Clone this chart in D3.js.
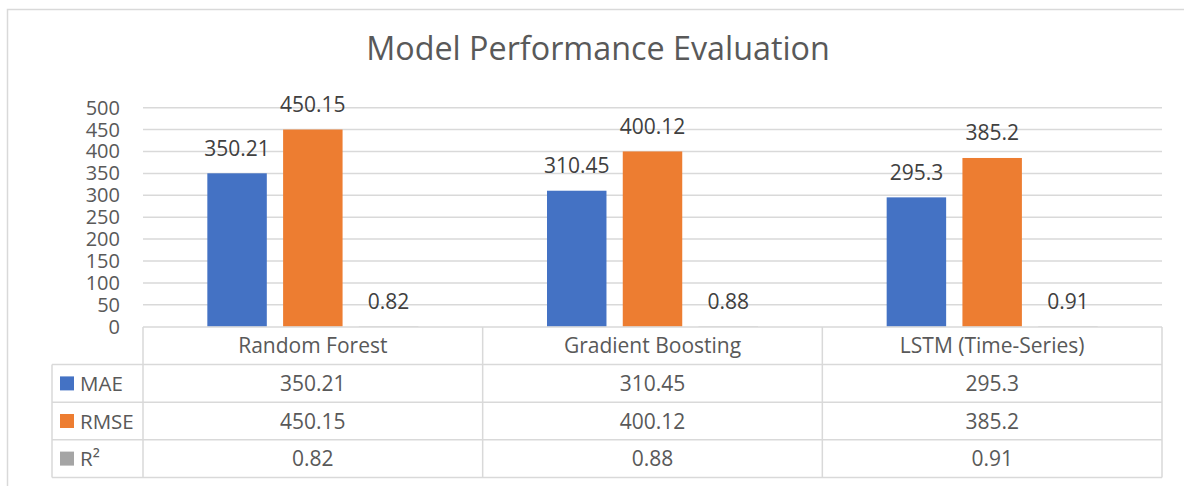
<!DOCTYPE html>
<html>
<head>
<meta charset="utf-8">
<script src="https://cdn.jsdelivr.net/npm/d3@7"></script>
<style>
  html, body { margin: 0; padding: 0; background: #fff; }
  svg { display: block; font-family: "Open Sans", sans-serif; }
</style>
</head>
<body>
<svg id="chart" width="1184" height="486"></svg>
<script>
const title = "Model Performance Evaluation";
const categories = ["Random Forest", "Gradient Boosting", "LSTM (Time-Series)"];
const seriesNames = ["MAE", "RMSE", "R²"];
const maeValues = [350.21, 310.45, 295.3];
const rmseValues = [450.15, 400.12, 385.2];
const r2Values = [0.82, 0.88, 0.91];
const yTicks = [0, 50, 100, 150, 200, 250, 300, 350, 400, 450, 500];
const seriesColors = ["#4472c4", "#ed7d31", "#a5a5a5"];

const seriesValues = [maeValues, rmseValues, r2Values];

const svg = d3.select("#chart");
const W = 1184, H = 486;

// outer chart border
svg.append("rect")
  .attr("x", 7.5).attr("y", 9.5)
  .attr("width", W + 20).attr("height", H + 20)
  .attr("fill", "#fff").attr("stroke", "#d9d9d9").attr("stroke-width", 1.5);

// title
svg.append("text")
  .attr("x", 598).attr("y", 60)
  .attr("text-anchor", "middle")
  .attr("font-size", 32.3)
  .attr("fill", "#595959")
  .text(title);

const plotLeft = 143, plotRight = 1162;
const y = d3.scaleLinear().domain([0, 500]).range([326.7, 107.7]);
const x = d3.scaleBand().domain(categories).range([plotLeft, plotRight]).padding(0);
const xs = d3.scaleBand().domain(seriesNames).range([-105.5, 105.5]).paddingInner(0.215).paddingOuter(0);

// gridlines
svg.append("g").selectAll("line").data(yTicks.filter(d => d > 0)).join("line")
  .attr("x1", plotLeft).attr("x2", plotRight)
  .attr("y1", d => y(d)).attr("y2", d => y(d))
  .attr("stroke", "#d9d9d9").attr("stroke-width", 1.5);

// y axis labels via d3 axis
const yAxis = svg.append("g")
  .attr("transform", "translate(120,0)")
  .call(d3.axisLeft(y).tickValues(yTicks).tickSize(0).tickPadding(0));
yAxis.select(".domain").remove();
yAxis.selectAll("text")
  .attr("font-family", "Open Sans, sans-serif")
  .attr("font-size", 20)
  .attr("fill", "#595959");

// bars
const groups = svg.append("g").selectAll("g").data(categories).join("g")
  .attr("transform", c => `translate(${x(c) + x.bandwidth() / 2},0)`);

seriesNames.forEach((s, si) => {
  groups.append("rect")
    .attr("x", xs(s))
    .attr("width", xs.bandwidth())
    .attr("y", (c, ci) => y(seriesValues[si][ci]))
    .attr("height", (c, ci) => y(0) - y(seriesValues[si][ci]))
    .attr("fill", seriesColors[si]);
  groups.append("text")
    .attr("x", xs(s) + xs.bandwidth() / 2)
    .attr("y", (c, ci) => y(seriesValues[si][ci]) - 17.5)
    .attr("text-anchor", "middle")
    .attr("font-size", 21)
    .attr("fill", "#404040")
    .text((c, ci) => seriesValues[si][ci]);
});

// data table
const tableTop = 327, rowH = 37.6, legendLeft = 52;
const tableColor = "#d9d9d9";
const tg = svg.append("g").attr("stroke", tableColor).attr("stroke-width", 1.5);
tg.append("line").attr("x1", plotLeft).attr("x2", plotRight).attr("y1", tableTop).attr("y2", tableTop);
for (let i = 1; i <= 4; i++) {
  tg.append("line").attr("x1", legendLeft).attr("x2", plotRight)
    .attr("y1", tableTop + i * rowH).attr("y2", tableTop + i * rowH);
}
tg.append("line").attr("x1", legendLeft).attr("x2", legendLeft).attr("y1", tableTop + rowH).attr("y2", tableTop + 4 * rowH);
categories.forEach(c => {
  tg.append("line").attr("x1", x(c)).attr("x2", x(c)).attr("y1", tableTop).attr("y2", tableTop + 4 * rowH);
});
tg.append("line").attr("x1", plotRight).attr("x2", plotRight).attr("y1", tableTop).attr("y2", tableTop + 4 * rowH);

// header labels
svg.append("g").selectAll("text").data(categories).join("text")
  .attr("x", c => x(c) + x.bandwidth() / 2)
  .attr("y", tableTop + rowH / 2 + 7.5)
  .attr("text-anchor", "middle")
  .attr("font-size", 21)
  .attr("fill", "#595959")
  .text(c => c);

// rows
seriesNames.forEach((s, si) => {
  const rowMid = tableTop + (si + 1) * rowH + rowH / 2;
  svg.append("rect")
    .attr("x", 60).attr("y", rowMid - 7)
    .attr("width", 14).attr("height", 14)
    .attr("fill", seriesColors[si]);
  svg.append("text")
    .attr("x", 80).attr("y", rowMid + 7.5)
    .attr("font-size", 20.5)
    .attr("fill", "#595959")
    .text(s);
  svg.append("g").selectAll("text").data(categories).join("text")
    .attr("x", c => x(c) + x.bandwidth() / 2)
    .attr("y", rowMid + 7.5)
    .attr("text-anchor", "middle")
    .attr("font-size", 21)
    .attr("fill", "#595959")
    .text((c, ci) => seriesValues[si][ci]);
});
</script>
</body>
</html>
